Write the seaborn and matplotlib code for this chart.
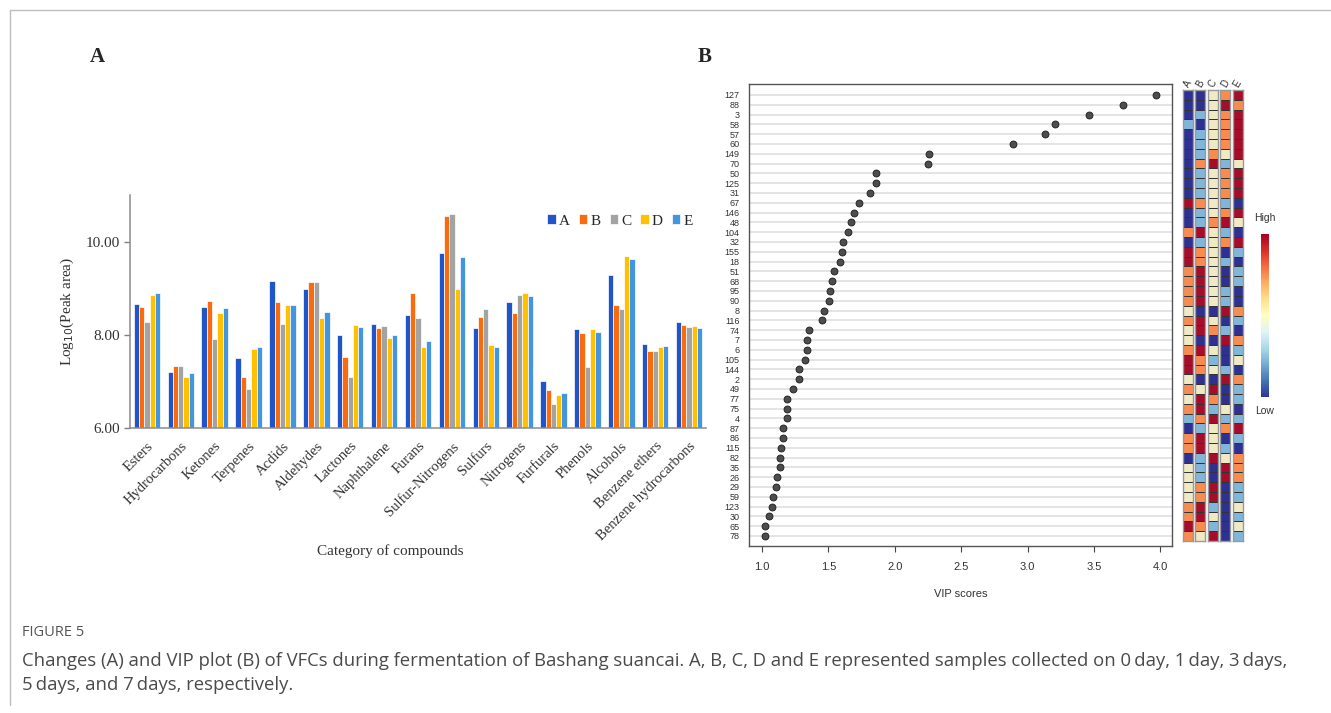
import numpy as np
import pandas as pd
import matplotlib
matplotlib.use('Agg')
import matplotlib.pyplot as plt
from matplotlib.colors import ListedColormap
from matplotlib.lines import Line2D
import seaborn as sns

# ---------------- data: panel A ----------------
categories = ['Esters', 'Hydrocarbons', 'Ketones', 'Terpenes', 'Acdids', 'Aldehydes',
              'Lactones', 'Naphthalene', 'Furans', 'Sulfur-Nitrogens', 'Sulfurs',
              'Nitrogens', 'Furfurals', 'Phenols', 'Alcohols', 'Benzene ethers',
              'Benzene hydrocarbons']
samples = ['A', 'B', 'C', 'D', 'E']
val_A = [8.66, 7.20, 8.59, 7.50, 9.15, 8.99, 8.00, 8.24, 8.42, 9.76, 8.15, 8.70, 7.01, 8.12, 9.29, 7.80, 8.27]
val_B = [8.60, 7.33, 8.73, 7.10, 8.70, 9.14, 7.53, 8.16, 8.89, 10.56, 8.38, 8.47, 6.83, 8.05, 8.65, 7.65, 8.22]
val_C = [8.27, 7.33, 7.92, 6.85, 8.23, 9.14, 7.09, 8.20, 8.37, 10.59, 8.55, 8.85, 6.53, 7.31, 8.55, 7.65, 8.17]
val_D = [8.85, 7.10, 8.48, 7.70, 8.64, 8.37, 8.22, 7.93, 7.75, 8.99, 7.78, 8.90, 6.71, 8.12, 9.69, 7.75, 8.19]
val_E = [8.89, 7.18, 8.57, 7.75, 8.65, 8.49, 8.17, 7.99, 7.87, 9.68, 7.75, 8.84, 6.76, 8.07, 9.62, 7.77, 8.15]
bar_colors = ['#1f55c8', '#fb6a0c', '#a3a3a3', '#ffc000', '#4495df']

# ---------------- data: panel B ----------------
vip_ids = ['127', '88', '3', '58', '57', '60', '149', '70', '50', '125', '31', '67', '146',
           '48', '104', '32', '155', '18', '51', '68', '95', '90', '8', '116', '74', '7',
           '6', '105', '144', '2', '49', '77', '75', '4', '87', '86', '115', '82', '35',
           '26', '29', '59', '123', '30', '65', '78']
vip_scores = [3.97, 3.72, 3.46, 3.21, 3.13, 2.89, 2.26, 2.25, 1.86, 1.855, 1.81, 1.73, 1.69,
              1.67, 1.65, 1.61, 1.60, 1.59, 1.54, 1.53, 1.51, 1.505, 1.47, 1.45, 1.35, 1.34,
              1.335, 1.32, 1.28, 1.278, 1.23, 1.19, 1.188, 1.185, 1.16, 1.158, 1.14, 1.135,
              1.133, 1.11, 1.105, 1.08, 1.075, 1.05, 1.025, 1.02]
# relative level of each compound in each sample (1 = low ... 5 = high)
heat_A = [1, 1, 1, 2, 1, 1, 1, 1, 1, 1, 1, 5, 1, 1, 4, 1, 5, 5, 4, 4, 4, 4, 3,
          4, 3, 3, 4, 5, 5, 3, 4, 3, 4, 2, 1, 4, 4, 1, 3, 3, 3, 3, 4, 4, 5, 4]
heat_B = [1, 1, 2, 1, 2, 2, 2, 4, 2, 2, 2, 4, 2, 2, 5, 2, 4, 4, 5, 5, 5, 5, 1,
          5, 5, 1, 5, 4, 4, 1, 3, 5, 5, 4, 2, 5, 5, 2, 2, 2, 4, 4, 5, 5, 4, 3]
heat_C = [3, 3, 3, 3, 3, 3, 4, 5, 3, 3, 3, 3, 3, 4, 3, 3, 3, 3, 3, 3, 3, 3, 1,
          3, 4, 1, 3, 2, 3, 1, 5, 4, 2, 5, 3, 3, 3, 5, 1, 1, 5, 5, 2, 3, 2, 5]
heat_D = [4, 5, 4, 4, 4, 4, 3, 2, 4, 4, 4, 2, 4, 5, 2, 4, 1, 2, 1, 1, 2, 2, 5,
          1, 2, 5, 1, 1, 2, 5, 1, 1, 3, 2, 4, 1, 2, 3, 5, 5, 1, 1, 1, 1, 1, 1]
heat_E = [5, 4, 5, 5, 5, 5, 5, 3, 5, 5, 5, 1, 5, 3, 1, 5, 2, 1, 2, 2, 1, 1, 4,
          2, 1, 4, 2, 3, 1, 4, 2, 2, 1, 2, 5, 2, 1, 4, 4, 4, 2, 2, 3, 2, 3, 2]
heat_colors = ['#2e3192', '#7fb6da', '#efe9c4', '#f98b4f', '#a50d2b']

W, H = 1331, 713
SERIF = ['Liberation Serif', 'DejaVu Serif']
SANS = ['Liberation Sans', 'DejaVu Sans']


def box(l, t, r, b):
    return [l / W, 1 - b / H, (r - l) / W, (b - t) / H]


sns.set_style('white')
fig = plt.figure(figsize=(W / 100, H / 100), dpi=100)

# =========================================================
# Panel A: grouped bar chart
# =========================================================
axA = fig.add_axes(box(130, 195, 706, 428.3))
df_a = pd.DataFrame({
    'category': categories * 5,
    'sample': np.repeat(samples, len(categories)),
    'value': val_A + val_B + val_C + val_D + val_E,
})
sns.barplot(data=df_a, x='category', y='value', hue='sample', palette=bar_colors,
            saturation=1, width=0.78, edgecolor='white', linewidth=0.5, ax=axA)
axA.set_ylim(6, 11)
axA.set_xlim(-0.5, len(categories) - 0.5)
axA.set_yticks([6, 8, 10])
axA.set_yticklabels(['6.00', '8.00', '10.00'], fontfamily=SERIF, fontsize=11, color='#333333')
axA.set_xticks(range(len(categories)))
axA.set_xticklabels(categories, rotation=45, ha='right', rotation_mode='anchor',
                    fontfamily=SERIF, fontsize=10.5, color='#333333')
axA.set_xticks(np.arange(0.5, len(categories) - 1, 1), minor=True)
axA.tick_params(axis='x', which='major', length=0, pad=8)
axA.tick_params(axis='x', which='minor', length=4, color='#808080', width=1)
axA.tick_params(axis='y', length=4, color='#808080', width=1, left=True, pad=3)
for s in ['top', 'right']:
    axA.spines[s].set_visible(False)
for s in ['left', 'bottom']:
    axA.spines[s].set_color('#8c8c8c')
    axA.spines[s].set_linewidth(1.1)
axA.set_ylabel('Log$_{10}$(Peak area)', fontfamily=SERIF, fontsize=11, color='#333333')
axA.yaxis.set_label_coords(-0.094, 0.5)
axA.set_xlabel('Category of compounds', fontfamily=SERIF, fontsize=11, color='#333333')
axA.xaxis.set_label_coords(0.452, -0.496)
axA.legend(loc='center', bbox_to_anchor=(620 / W, 1 - 221 / H), bbox_transform=fig.transFigure,
           ncol=5, frameon=False, prop={'family': SERIF, 'size': 11},
           handlelength=0.55, handleheight=0.55, handletextpad=0.2, columnspacing=0.6)

# =========================================================
# Panel B: VIP scores
# =========================================================
axB = fig.add_axes(box(749.3, 84.3, 1172.3, 545.7))
sns.stripplot(x=vip_scores, y=vip_ids, orient='h', jitter=False, color='#4d4d4d',
              edgecolor='#1a1a1a', linewidth=0.6, size=5, ax=axB, zorder=3)
axB.set_axisbelow(True)
axB.yaxis.grid(True, color='#dcdcdc', linewidth=1.1)
axB.xaxis.grid(False)
axB.set_xlim(0.904, 4.09)
axB.set_ylim(len(vip_ids) - 0.01, -1.09)
axB.set_xticks(np.arange(1, 4.01, 0.5))
axB.set_xticklabels([f'{v:.1f}' for v in np.arange(1, 4.01, 0.5)], fontfamily=SANS,
                    fontsize=8, color='#333333')
axB.set_yticklabels(vip_ids, fontfamily=SANS, fontsize=6.5, color='#333333')
axB.tick_params(axis='y', length=0, pad=7)
axB.tick_params(axis='x', length=4, color='#444444', width=0.8, pad=8, bottom=True)
for s in axB.spines.values():
    s.set_color('#555555')
    s.set_linewidth(1)
axB.set_xlabel('VIP scores', fontfamily=SANS, fontsize=8, color='#333333', labelpad=12)

# heatmap strips, one per sample
cmap5 = ListedColormap(heat_colors)
df_h = pd.DataFrame({'A': heat_A, 'B': heat_B, 'C': heat_C, 'D': heat_D, 'E': heat_E},
                    index=vip_ids)
col_left = [1182.7, 1195.3, 1207.7, 1220.3, 1232.7]
for x0, s in zip(col_left, samples):
    axh = fig.add_axes(box(x0, 90, x0 + 10, 541))
    sns.heatmap(df_h[[s]], cmap=cmap5, vmin=0.5, vmax=5.5, cbar=False, linewidths=0.5,
                linecolor='#333333', xticklabels=True, yticklabels=False, ax=axh)
    axh.xaxis.tick_top()
    axh.set_xticklabels([s], rotation=60, fontfamily=SANS, fontsize=7, color='#333333')
    axh.tick_params(axis='x', length=0, pad=1)
    axh.set_xlabel('')
    axh.set_ylabel('')
    for sp in axh.spines.values():
        sp.set_visible(True)
        sp.set_color('#999999')
        sp.set_linewidth(1)

# colour key
cax = fig.add_axes(box(1261, 234, 1269, 397))
cb = fig.colorbar(plt.cm.ScalarMappable(cmap='RdYlBu_r'), cax=cax)
cb.set_ticks([])
cb.outline.set_visible(False)
fig.text(1265 / W, 1 - 218 / H, 'High', ha='center', va='center', fontsize=7.5,
         fontfamily=SANS, color='#333333')
fig.text(1265 / W, 1 - 411 / H, 'Low', ha='center', va='center', fontsize=7.5,
         fontfamily=SANS, color='#333333')

# panel letters
fig.text(97 / W, 1 - 57 / H, 'A', ha='center', va='center', fontsize=15,
         fontweight='bold', fontfamily=SERIF)
fig.text(705 / W, 1 - 57 / H, 'B', ha='center', va='center', fontsize=15,
         fontweight='bold', fontfamily=SERIF)

# caption
CAP = ['Open Sans', 'DejaVu Sans']
fig.text(22 / W, 1 - 633 / H, 'FIGURE 5', ha='left', va='center', fontsize=10.5,
         fontfamily=CAP, color='#555555')
fig.text(22 / W, 1 - 661 / H,
         'Changes (A) and VIP plot (B) of VFCs during fermentation of Bashang suancai. '
         'A, B, C, D and E represented samples collected on 0\u2009day, 1\u2009day, 3\u2009days,',
         ha='left', va='center', fontsize=13.3, fontfamily=CAP, color='#4a4a4a')
fig.text(22 / W, 1 - 685 / H, '5\u2009days, and 7\u2009days, respectively.',
         ha='left', va='center', fontsize=13.3, fontfamily=CAP, color='#4a4a4a')

# frame lines
fig.add_artist(Line2D([10 / W, 1], [1 - 10 / H, 1 - 10 / H], color='#bdbdbd', lw=1))
fig.add_artist(Line2D([10 / W, 10 / W], [1 - 705 / H, 1 - 10 / H], color='#bdbdbd', lw=1))

fig.savefig('out.png', dpi=100)
